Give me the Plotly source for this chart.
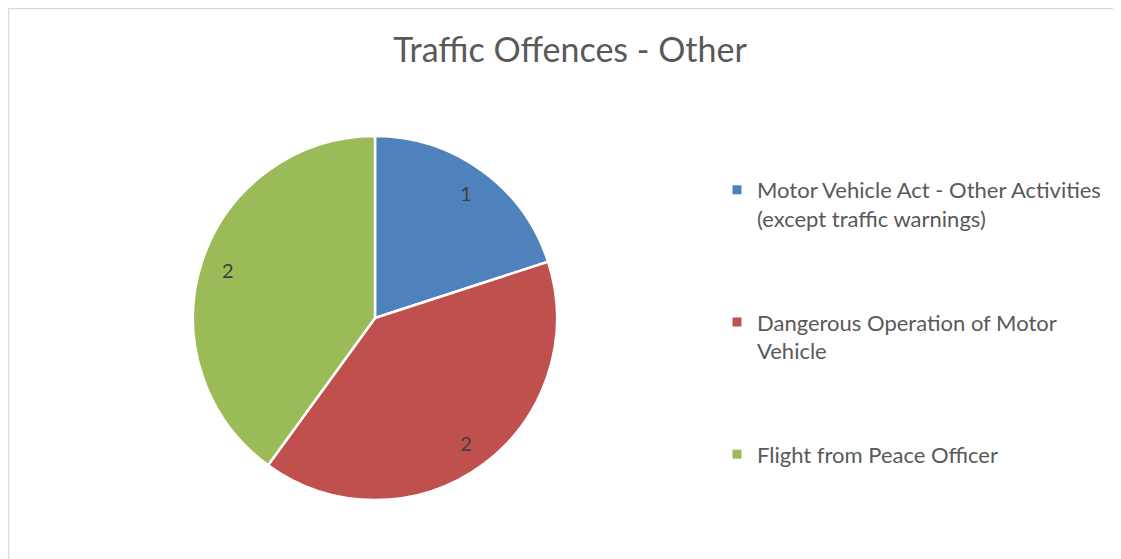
import plotly.graph_objects as go

# chart data
categories = [
    "Motor Vehicle Act - Other Activities<br>(except traffic warnings)",
    "Dangerous Operation of Motor<br>Vehicle",
    "Flight from Peace Officer",
]
values = [1, 2, 2]
colors = ["#4F81BD", "#C0504D", "#9BBB59"]

# page has an 8px body margin, so the figure is a bit smaller
OFF = 8
W, H = 1121 - OFF, 559 - OFF
FONT = "Lato, 'Open Sans', sans-serif"


def px(x):
    return (x - OFF) / W


def py(y):
    return 1 - (y - OFF) / H


cx, cy, r = 375, 318, 182
pie_domain = dict(x=[px(cx - r), px(cx + r)], y=[py(cy + r), py(cy - r)])

fig = go.Figure()

fig.add_trace(go.Pie(
    labels=categories,
    values=values,
    sort=False,
    direction="clockwise",
    rotation=0,
    marker=dict(colors=colors, line=dict(color="white", width=2.5)),
    textinfo="none",
    showlegend=False,
    hoverinfo="label+value",
    domain=pie_domain,
))

# transparent ring on top, only to place the value labels near the rim
fig.add_trace(go.Pie(
    labels=categories,
    values=values,
    sort=False,
    direction="clockwise",
    rotation=0,
    hole=0.7,
    marker=dict(colors=["rgba(0,0,0,0)"] * 3, line=dict(width=0)),
    textinfo="value",
    textposition="inside",
    insidetextorientation="horizontal",
    textfont=dict(family=FONT, size=20, color="#404040"),
    showlegend=False,
    hoverinfo="skip",
    domain=pie_domain,
))

# legend entries, one group each so the spacing can be set
for i, (name, col) in enumerate(zip(categories, colors)):
    fig.add_trace(go.Scatter(
        x=[None], y=[None], mode="markers", name=name,
        marker=dict(symbol="square", size=9, color=col),
        legendgroup=f"g{i}", showlegend=True,
    ))

fig.update_layout(
    width=W, height=H,
    margin=dict(l=0, r=0, t=0, b=0),
    paper_bgcolor="white",
    plot_bgcolor="white",
    xaxis=dict(visible=False),
    yaxis=dict(visible=False),
    title=dict(
        text="Traffic Offences - Other",
        x=px(570), xanchor="center", xref="paper",
        y=py(50), yanchor="middle", yref="paper",
        font=dict(family=FONT, size=34, color="#595959"),
    ),
    legend=dict(
        x=px(717), xanchor="left",
        y=py(169), yanchor="top",
        font=dict(family=FONT, size=22, color="#595959"),
        itemwidth=30,
        valign="top",
        tracegroupgap=72,
        bgcolor="rgba(0,0,0,0)",
    ),
    shapes=[dict(
        type="rect", xref="paper", yref="paper",
        x0=0.6 / W, x1=1.02, y0=-0.02, y1=1 - 0.6 / H,
        line=dict(color="#D9D9D9", width=1.3),
        fillcolor="rgba(0,0,0,0)", layer="below",
    )],
)

fig.write_html("out.html")
